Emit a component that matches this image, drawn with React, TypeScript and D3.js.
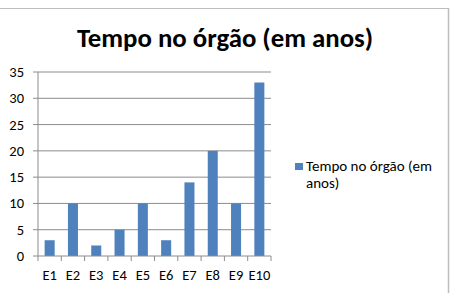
import React from "react";
import * as d3 from "d3";

const categories = ["E1", "E2", "E3", "E4", "E5", "E6", "E7", "E8", "E9", "E10"];
const values = [3, 10, 2, 5, 10, 3, 14, 20, 10, 33];
const yTicks = [0, 5, 10, 15, 20, 25, 30, 35];
const title = "Tempo no órgão (em anos)";
const legendLines = ["Tempo no órgão (em", "anos)"];

const W = 451;
const H = 293;
const left = 38;
const right = 271;
const top = 72;
const bottom = 256;
const font = "Carlito, 'Open Sans', 'Liberation Sans', sans-serif";

export default function App() {
  const x = d3.scaleBand<string>().domain(categories).range([left, right]).paddingInner(0.57).paddingOuter(0.285);
  const xb = d3.scaleBand<string>().domain(categories).range([left, right]);
  const y = d3.scaleLinear().domain([0, 35]).range([bottom, top]);
  const boundaries = d3.range(categories.length + 1).map((i) => left + i * xb.step());

  return (
    <svg width={W} height={H} style={{ position: "absolute", left: 0, top: 0, background: "#fff" }}>
      <rect x={0} y={0} width={W} height={H} fill="#fff" />
      <line x1={0} x2={449} y1={8.5} y2={8.5} stroke="#bdbdbd" strokeWidth={1.2} />
      <line x1={448.5} x2={448.5} y1={8} y2={H} stroke="#bdbdbd" strokeWidth={1.5} />
      <text x={225} y={47} textAnchor="middle" fontFamily={font} fontWeight="bold" fontSize={26.8} fill="#000">
        {title}
      </text>
      {yTicks.map((t) => (
        <g key={t}>
          {t > 0 && <line x1={left} x2={right} y1={y(t)} y2={y(t)} stroke="#8c8c8c" strokeWidth={1} />}
          <line x1={left - 5} x2={left} y1={y(t)} y2={y(t)} stroke="#8c8c8c" strokeWidth={1} />
          <text x={24} y={y(t) + 5} textAnchor="end" fontFamily={font} fontSize={14.5} fill="#000">
            {t}
          </text>
        </g>
      ))}
      <line x1={left} x2={left} y1={top} y2={bottom} stroke="#8c8c8c" strokeWidth={1} />
      {values.map((v, i) => (
        <rect key={categories[i]} x={x(categories[i])} y={y(v)} width={x.bandwidth()} height={bottom - y(v)} fill="#4f81bd" />
      ))}
      <line x1={left} x2={right} y1={bottom} y2={bottom} stroke="#8c8c8c" strokeWidth={1} />
      {boundaries.map((b, i) => (
        <line key={i} x1={b} x2={b} y1={bottom} y2={bottom + 5} stroke="#8c8c8c" strokeWidth={1} />
      ))}
      {categories.map((c) => (
        <text key={c} x={(xb(c) as number) + xb.bandwidth() / 2} y={280} textAnchor="middle" fontFamily={font} fontSize={14.5} fill="#000">
          {c}
        </text>
      ))}
      <rect x={295} y={163} width={8} height={7} fill="#4f81bd" />
      {legendLines.map((l, i) => (
        <text key={i} x={306} y={171 + i * 17} fontFamily={font} fontSize={15} fill="#000">
          {l}
        </text>
      ))}
    </svg>
  );
}
